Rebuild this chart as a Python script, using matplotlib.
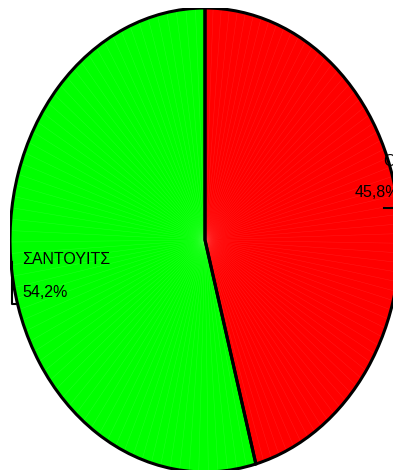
import numpy as np
import matplotlib.pyplot as plt
from matplotlib.patches import Wedge

plt.rcParams['font.family'] = ['Liberation Sans', 'DejaVu Sans']

# data
labels = ['ΟΡΘΗ', 'ΣΑΝΤΟΥΙΤΣ']
values = [45.8, 54.2]
pct_labels = ['45,8%', '54,2%']
colors = ['#ff0000', '#00ff00']

fig = plt.figure(figsize=(3.93, 4.70), dpi=100)
ax = fig.add_axes([10 / 393, -2 / 470, 390 / 393, 464 / 470])

wedges, _ = ax.pie(values, colors=colors, startangle=90, counterclock=False,
                   radius=1, wedgeprops=dict(linewidth=0))

# faint radial streaks like the original rendering
for w, c in zip(wedges, ['#ff4a4a', '#5cff5c']):
    a0 = np.deg2rad(w.theta1)
    a1 = np.deg2rad(w.theta2)
    for a in np.linspace(a0, a1, 70)[1:-1]:
        ax.plot([0, np.cos(a)], [0, np.sin(a)], color=c, lw=0.35, alpha=0.35,
                zorder=1.5)
    w.set_zorder(1)

# outline on top
for w in wedges:
    ax.add_patch(Wedge((0, 0), 1, w.theta1, w.theta2, facecolor='none',
                       edgecolor='black', linewidth=2.2, zorder=3))

ax.set_aspect('auto')
ax.set_xlim(-1, 1)
ax.set_ylim(-1, 1)
ax.axis('off')

# labels
fs = 11.5
ax.text(0.913, 0.34, labels[0], fontsize=fs, ha='left', va='center', zorder=4)
ax.text(0.769, 0.203, pct_labels[0], fontsize=fs, ha='left', va='center', zorder=4)
ax.text(-0.938, -0.086, labels[1], fontsize=fs, ha='left', va='center', zorder=4)
ax.text(-0.938, -0.228, pct_labels[1], fontsize=fs, ha='left', va='center', zorder=4)

# leader lines
ax.plot([0.92, 1.0], [0.138, 0.138], color='black', lw=1.5, clip_on=False, zorder=4)
ax.plot([-0.99, -0.99, -0.97], [-0.095, -0.275, -0.275], color='black', lw=1.5,
        clip_on=False, zorder=4)

fig.savefig('out.png', dpi=100)
